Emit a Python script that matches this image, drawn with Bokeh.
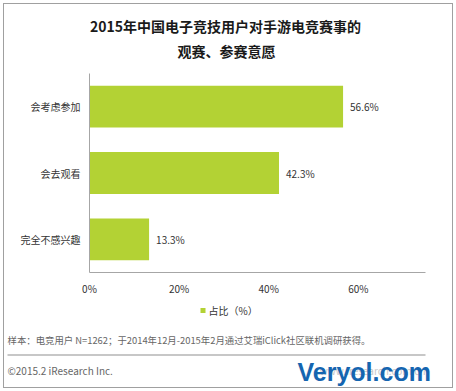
from bokeh.plotting import figure
from bokeh.layouts import column
from bokeh.models import ColumnDataSource, FactorRange, Range1d, FixedTicker
from bokeh.core.properties import value
from bokeh.embed import file_html
from bokeh.resources import INLINE

# ---- data ----
categories = ["完全不感兴趣", "会去观看", "会考虑参加"]
shares = [13.3, 42.3, 56.6]
share_labels = ["13.3%", "42.3%", "56.6%"]
x_ticks = [0, 20, 40, 60]
x_tick_labels = ["0%", "20%", "40%", "60%"]
series_name = "占比（%）"
title_lines = ["2015年中国电子竞技用户对手游电竞赛事的", "观赛、参赛意愿"]
footnote = "样本：电竞用户 N=1262；于2014年12月-2015年2月通过艾瑞iClick社区联机调研获得。"
copyright_text = "©2015.2 iResearch Inc."
site_text = "www.iresearch.com.cn"
watermark = "Veryol.com"

# ---- layout constants (page pixels) ----
W = 456
HEAD_H = 73
CHART_H = 225
FOOT_H = 93
L, R = 89, 425
AX_B = 24
X_MAX = 75
FONT = "Noto Sans CJK SC"
BAR = "#B3D234"


def blank(height):
    f = figure(width=W, height=height, output_backend="svg", toolbar_location=None,
               x_range=Range1d(0, W), y_range=Range1d(height, 0),
               x_axis_type=None, y_axis_type=None,
               min_border=0, min_border_left=0, min_border_right=0,
               min_border_top=0, min_border_bottom=0)
    f.frame_align = False
    f.outline_line_color = None
    f.xgrid.grid_line_color = None
    f.ygrid.grid_line_color = None
    f.background_fill_alpha = 0
    f.border_fill_alpha = 0
    return f


# ---- header (title) ----
head = blank(HEAD_H)
head.text(x=[225, 226], y=[25, 50], text=title_lines, text_align="center",
          text_baseline="middle", text_font=value(FONT), text_font_size="14px",
          text_font_style="bold", text_color="#1a1a1a")

# ---- chart ----
p = figure(width=W, height=CHART_H, output_backend="svg", toolbar_location=None,
           y_range=FactorRange(factors=categories, range_padding=0),
           x_range=Range1d(0, X_MAX),
           min_border_left=L, min_border_right=W - R,
           min_border_top=0, min_border_bottom=AX_B)
p.frame_align = False
p.outline_line_color = None
p.xgrid.grid_line_color = None
p.ygrid.grid_line_color = None
p.background_fill_alpha = 0
p.border_fill_alpha = 0

src = ColumnDataSource(dict(cat=categories, val=shares, lab=share_labels))
bars = p.hbar(y="cat", right="val", left=0, height=0.63, source=src,
              fill_color=BAR, line_color=None)
p.text(x="val", y="cat", text="lab", source=src, x_offset=7,
       text_baseline="middle", text_align="left",
       text_font=value(FONT), text_font_size="10px", text_color="#333333")

for ax in (p.xaxis[0], p.yaxis[0]):
    ax.axis_line_color = "#a6a6a6"
    ax.major_tick_line_color = None
    ax.minor_tick_line_color = None
    ax.major_tick_out = 0
    ax.minor_tick_out = 0
    ax.major_tick_in = 0
    ax.major_label_text_font = FONT
    ax.major_label_text_font_size = "10px"
    ax.major_label_text_color = "#333333"
p.yaxis[0].major_label_standoff = 9
p.xaxis[0].major_label_standoff = 8
p.xaxis[0].ticker = FixedTicker(ticks=x_ticks)
p.xaxis[0].major_label_overrides = {t: s for t, s in zip(x_ticks, x_tick_labels)}

# ---- footer (legend, notes) ----
foot = blank(FOOT_H)
foot.scatter(x=[202.5], y=[12], marker="square", size=5, fill_color=BAR,
             line_color=None)
foot.text(x=[208], y=[12], text=[series_name], text_align="left",
          text_baseline="middle", text_font=value(FONT), text_font_size="10px",
          text_color="#333333")
foot.text(x=[7], y=[41], text=[footnote], text_align="left", text_baseline="middle",
          text_font=value(FONT), text_font_size="9.4px", text_color="#666666")
foot.segment(x0=[7], y0=[56.5], x1=[R], y1=[56.5], line_color="#b4b4b4",
             line_width=1.5)
foot.text(x=[7], y=[72], text=[copyright_text], text_align="left",
          text_baseline="middle", text_font=value(FONT), text_font_size="10px",
          text_color="#666666")
foot.text(x=[R], y=[72], text=[site_text], text_align="right",
          text_baseline="middle", text_font=value(FONT), text_font_size="10px",
          text_color="#c8c8c8")
foot.text(x=[297], y=[73], text=[watermark], text_align="left",
          text_baseline="alphabetic", text_font=value("Liberation Sans"),
          text_font_size="25px", text_font_style="bold", text_color="#1565b0")

layout = column(head, p, foot, spacing=0,
                styles={"outline": "1px solid #a0a0a0", "outline-offset": "-4px",
                        "background-color": "white"})
open("out.html", "w").write(file_html(layout, INLINE))
